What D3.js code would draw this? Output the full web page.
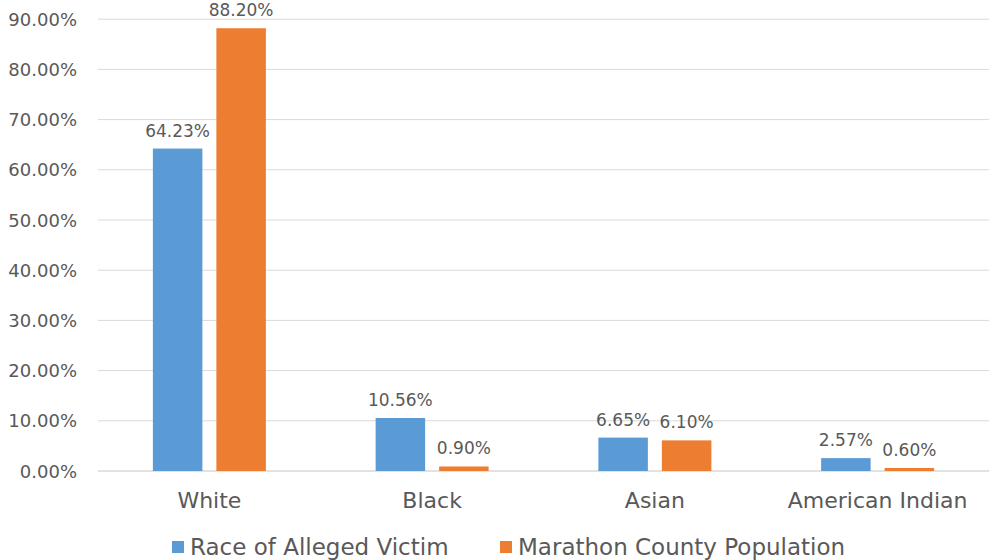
<!DOCTYPE html>
<html>
<head>
<meta charset="utf-8">
<script src="https://cdn.jsdelivr.net/npm/d3@7"></script>
<style>
  body { margin: 0; background: #fff; }
  svg { display: block; font-family: "DejaVu Sans", sans-serif; }
</style>
</head>
<body>
<svg id="chart" width="989" height="560"></svg>
<script>
var categories = ["White", "Black", "Asian", "American Indian"];
var seriesNames = ["Race of Alleged Victim", "Marathon County Population"];
var victim = [64.23, 10.56, 6.65, 2.57];
var population = [88.20, 0.90, 6.10, 0.60];
var yTicks = [0, 10, 20, 30, 40, 50, 60, 70, 80, 90];
var colors = ["#5b9bd5", "#ed7d31"];

var svg = d3.select("#chart");
var plotLeft = 98, plotRight = 989, plotTop = 19.2, plotBottom = 471;
var textColor = "#595959";

var x = d3.scaleBand().domain(categories).range([plotLeft, plotRight]);
var y = d3.scaleLinear().domain([0, 90]).range([plotBottom, plotTop]);
var barW = 49.5, gap = 14;

// gridlines
svg.append("g").selectAll("line")
  .data(yTicks)
  .enter()
  .append("line")
  .attr("x1", plotLeft)
  .attr("x2", plotRight)
  .attr("y1", function(d) { return y(d); })
  .attr("y2", function(d) { return y(d); })
  .attr("stroke", "#d9d9d9")
  .attr("stroke-width", function(d) { return d === 0 ? 1.5 : 1; });

// y tick labels
svg.append("g").selectAll("text")
  .data(yTicks)
  .enter()
  .append("text")
  .attr("x", 77)
  .attr("y", function(d) { return y(d) + 6.5; })
  .attr("text-anchor", "end")
  .attr("font-size", 18)
  .attr("fill", textColor)
  .text(function(d) { return d.toFixed(2) + "%"; });

var series = [victim, population];
series.forEach(function(vals, s) {
  var g = svg.append("g");
  var bx = function(d, i) {
    var c = x(categories[i]) + x.bandwidth() / 2;
    return s === 0 ? c - gap / 2 - barW : c + gap / 2;
  };
  g.selectAll("rect")
    .data(vals)
    .enter()
    .append("rect")
    .attr("x", bx)
    .attr("y", function(d) { return y(d); })
    .attr("width", barW)
    .attr("height", function(d) { return plotBottom - y(d); })
    .attr("fill", colors[s]);
  // value labels above bars
  g.selectAll("text")
    .data(vals)
    .enter()
    .append("text")
    .attr("x", function(d, i) { return bx(d, i) + barW / 2; })
    .attr("y", function(d) { return y(d) - 12; })
    .attr("text-anchor", "middle")
    .attr("font-size", 17)
    .attr("fill", textColor)
    .text(function(d) { return d.toFixed(2) + "%"; });
});

// category labels
svg.append("g").selectAll("text")
  .data(categories)
  .enter()
  .append("text")
  .attr("x", function(d) { return x(d) + x.bandwidth() / 2; })
  .attr("y", 508)
  .attr("text-anchor", "middle")
  .attr("font-size", 22)
  .attr("fill", textColor)
  .text(function(d) { return d; });

// legend
var legendX = [172, 500];
var lg = svg.append("g");
seriesNames.forEach(function(name, i) {
  lg.append("rect")
    .attr("x", legendX[i])
    .attr("y", 541)
    .attr("width", 12)
    .attr("height", 12)
    .attr("fill", colors[i]);
  lg.append("text")
    .attr("x", legendX[i] + 18)
    .attr("y", 555)
    .attr("font-size", 23)
    .attr("fill", textColor)
    .text(name);
});
</script>
</body>
</html>
